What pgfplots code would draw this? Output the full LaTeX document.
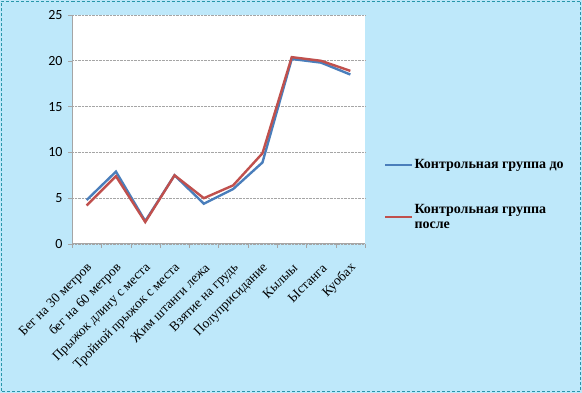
\documentclass[border=0pt]{standalone}
\usepackage{pgfplots}
\pgfplotsset{compat=1.18}
\usepackage{fontspec}
\setmainfont{Liberation Serif}
\newfontfamily\tickfont{Carlito}
\definecolor{bgc}{RGB}{190,232,250}
\definecolor{brd}{RGB}{40,150,170}
\definecolor{cblue}{RGB}{74,126,187}
\definecolor{cred}{RGB}{192,80,77}
\definecolor{gridc}{RGB}{165,165,165}
\begin{document}
\begin{tikzpicture}[x=1pt,y=1pt]
\fill[bgc] (0,0) rectangle (582,393);
\draw[brd, densely dashed, line width=0.8pt] (1.5,1.5) rectangle (580.5,391.5);
\begin{axis}[
  at={(72pt,149pt)}, anchor=south west,
  scale only axis, width=293pt, height=229pt,
  xmin=-0.5, xmax=9.5, ymin=0, ymax=25,
  axis background/.style={fill=white},
  axis x line*=bottom, axis y line*=left,
  axis line style={gridc, -, line width=1pt},
  ytick={0,5,10,15,20,25},
  ymajorgrids, grid style={gridc, densely dotted, line width=0.6pt},
  major y tick style={gridc},
  xtick={0,...,9},
  major x tick style={draw=none},
  minor xtick={-0.5,0.5,...,9.5},
  minor x tick style={gridc},
  tick align=outside, major tick length=4pt, minor tick length=4pt,
  xticklabels={Бег на 30 метров, бег на 60 метров, Прыжок длину с места, Тройной прыжок с места, Жим штанги лежа, Взятие на грудь, Полуприсидание, Кылыы, Ыстанга, Куобах},
  x tick label style={rotate=45, anchor=east, font=\fontsize{13.5}{15}\selectfont, inner sep=1pt, yshift=-15pt, xshift=-9pt},
  y tick label style={font=\tickfont\fontsize{14}{16}\selectfont, xshift=-2pt},
  /pgf/number format/assume math mode=true,
  legend style={at={(1.055,0.215)}, anchor=west, draw=none, fill=none,
    font=\bfseries\fontsize{14}{15}\selectfont,
    cells={align=left, anchor=west}, row sep=30pt,
    nodes={inner xsep=1pt}},
  legend image code/.code={\draw[#1] (0pt,0pt) -- (27pt,0pt);},
  legend image post style={line width=2.2pt},
]
\addplot[cblue, line width=2.4pt] coordinates {(0,4.8) (1,7.9) (2,2.5) (3,7.5) (4,4.4) (5,6.0) (6,8.9) (7,20.2) (8,19.8) (9,18.5)};
\addlegendentry{Контрольная группа до}
\addplot[cred, line width=2.4pt] coordinates {(0,4.2) (1,7.4) (2,2.4) (3,7.5) (4,5.0) (5,6.4) (6,9.9) (7,20.4) (8,20.0) (9,18.9)};
\addlegendentry{Контрольная группа\\после}
\end{axis}
\end{tikzpicture}
\end{document}
